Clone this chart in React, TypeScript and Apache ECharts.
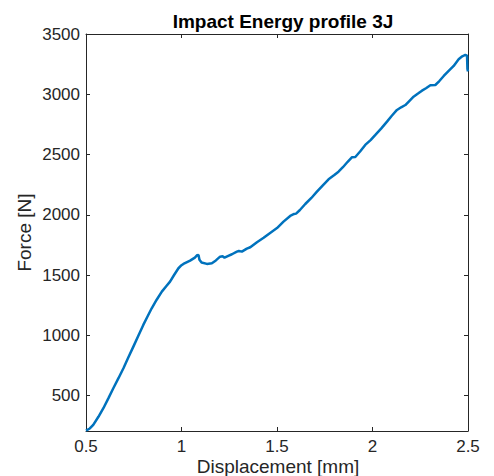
import React, { useEffect, useRef } from "react";
import * as echarts from "echarts";

const displacement = [
  0.5, 0.52, 0.538, 0.565, 0.591, 0.617, 0.643, 0.67, 0.696, 0.722, 0.748, 0.774, 0.8, 0.822, 0.844,
  0.87, 0.897, 0.92, 0.94, 0.962, 0.984, 1.0, 1.01, 1.045, 1.07, 1.082, 1.089, 1.094, 1.105, 1.133,
  1.159, 1.18, 1.202, 1.215, 1.225, 1.245, 1.264, 1.29, 1.3, 1.316, 1.342, 1.36, 1.395, 1.43, 1.464,
  1.5, 1.534, 1.569, 1.59, 1.6, 1.62, 1.648, 1.68, 1.709, 1.74, 1.77, 1.8, 1.822, 1.845, 1.87, 1.893,
  1.91, 1.935, 1.962, 1.99, 2.015, 2.045, 2.076, 2.1, 2.128, 2.15, 2.172, 2.195, 2.215, 2.24, 2.259,
  2.28, 2.303, 2.329, 2.35, 2.373, 2.4, 2.425, 2.451, 2.47, 2.486, 2.495, 2.497, 2.5,
];
const force = [
  210, 228, 258, 325, 396, 478, 562, 645, 728, 818, 907, 997, 1087, 1157, 1225,
  1296, 1363, 1408, 1446, 1503, 1557, 1582, 1593, 1620, 1645, 1665, 1667, 1628, 1605, 1593,
  1599, 1622, 1653, 1656, 1645, 1660, 1673, 1695, 1700, 1695, 1720, 1731, 1773, 1810, 1850,
  1890, 1944, 1991, 2007, 2010, 2040, 2090, 2140, 2192, 2245, 2295, 2330, 2358, 2395, 2440, 2478,
  2480, 2525, 2580, 2620, 2663, 2715, 2773, 2820, 2870, 2892, 2911, 2948, 2980, 3008, 3030,
  3050, 3075, 3077, 3110, 3152, 3196, 3235, 3290, 3315, 3326, 3320, 3210, 3190,
];
const yTicks = [500, 1000, 1500, 2000, 2500, 3000, 3500];

const AXIS = "#262626";
const FONT = "'Liberation Sans', Arial, Helvetica, sans-serif";

export default function App() {
  const ref = useRef<HTMLDivElement>(null);
  useEffect(() => {
    if (!ref.current) return;
    const chart = echarts.init(ref.current, null, { renderer: "svg" });
    const data = displacement.map((x, i) => [x, force[i]]);
    const xBase = {
      type: "value",
      min: 0.5,
      max: 2.5,
      interval: 0.5,
      splitLine: { show: false },
      axisLine: { show: true, onZero: false, lineStyle: { color: AXIS, width: 1 } },
    };
    const yBase = {
      type: "value",
      min: 207,
      max: 3500,
      splitLine: { show: false },
      axisLine: { show: true, onZero: false, lineStyle: { color: AXIS, width: 1 } },
    };
    chart.setOption({
      animation: false,
      backgroundColor: "#ffffff",
      title: [
        {
          text: "Impact Energy profile 3J",
          left: 278,
          textAlign: "center",
          top: 7,
          textStyle: { fontFamily: FONT, fontSize: 19, fontWeight: "bold", color: "#000" },
        },
        {
          text: "Displacement [mm]",
          left: 278,
          textAlign: "center",
          top: 457,
          padding: 0,
          textStyle: {
            fontFamily: FONT,
            fontSize: 19,
            lineHeight: 19,
            fontWeight: "normal",
            color: AXIS,
          },
        },
      ],
      grid: { left: 86, right: 26, top: 34, bottom: 45, containLabel: false },
      xAxis: [
        {
          ...xBase,
          position: "bottom",
          axisTick: { show: true, inside: true, length: 4, lineStyle: { color: AXIS } },
          axisLabel: {
            fontFamily: FONT,
            fontSize: 17,
            lineHeight: 17,
            color: AXIS,
            margin: 7,
            formatter: (v: number) => String(v),
            showMinLabel: true,
            showMaxLabel: true,
          },
        },
        {
          ...xBase,
          position: "top",
          axisTick: { show: true, inside: true, length: 4, lineStyle: { color: AXIS } },
          axisLabel: { show: false },
        },
      ],
      yAxis: [
        {
          ...yBase,
          position: "left",
          name: "Force [N]",
          nameLocation: "middle",
          nameGap: 52,
          nameRotate: 90,
          nameMoveOverlap: false,
          nameTextStyle: { fontFamily: FONT, fontSize: 19, color: AXIS },
          axisTick: {
            show: true,
            inside: true,
            length: 4,
            customValues: yTicks,
            lineStyle: { color: AXIS },
          },
          axisLabel: {
            fontFamily: FONT,
            fontSize: 17,
            color: AXIS,
            margin: 6,
            customValues: yTicks,
            formatter: (v: number) => String(v),
          },
        },
        {
          ...yBase,
          position: "right",
          axisTick: {
            show: true,
            inside: true,
            length: 4,
            customValues: yTicks,
            lineStyle: { color: AXIS },
          },
          axisLabel: { show: false },
        },
      ],
      series: [
        {
          type: "line",
          data,
          xAxisIndex: 0,
          yAxisIndex: 0,
          showSymbol: false,
          symbol: "none",
          lineStyle: { color: "#0072BD", width: 2.5 },
          clip: true,
        },
      ],
    });
    return () => chart.dispose();
  }, []);
  return (
    <div
      ref={ref}
      style={{ position: "absolute", left: 0, top: 0, width: 494, height: 476 }}
    />
  );
}
